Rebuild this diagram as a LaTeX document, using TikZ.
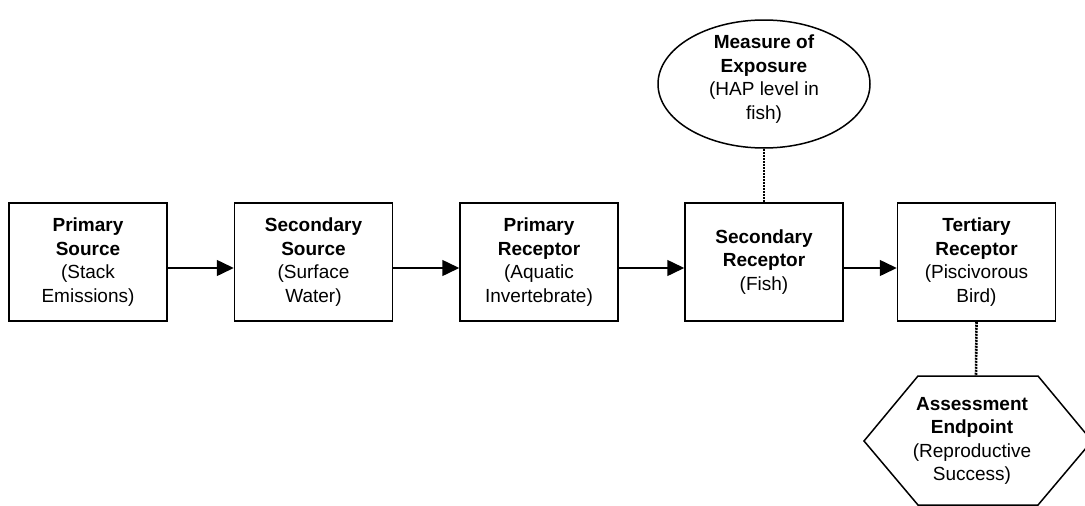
\documentclass[tikz,border=0pt]{standalone}
\usepackage{fontspec}
\setmainfont{Liberation Sans}
\usetikzlibrary{arrows.meta,shapes.geometric}
\begin{document}
\begin{tikzpicture}[x=1pt,y=-1pt,
  txt/.style={align=center,font=\fontsize{19}{23.5}\selectfont},
  stagebox/.style={txt,draw,line width=1.5pt,minimum width=158pt,minimum height=118pt,inner sep=0pt},
  flow/.style={line width=1.5pt,-{Triangle[length=17pt,width=16pt]}},
  link/.style={line width=2.6pt,dash pattern=on 2pt off 1pt}]
\useasboundingbox (0,0) rectangle (1085,506);
% pathway stages
\node[stagebox] (b1) at (88,262) {\textbf{Primary}\\\textbf{Source}\\(Stack\\Emissions)};
\node[stagebox] (b2) at (313.5,262) {\textbf{Secondary}\\\textbf{Source}\\(Surface\\Water)};
\node[stagebox] (b3) at (539,262) {\textbf{Primary}\\\textbf{Receptor}\\(Aquatic\\Invertebrate)};
\node[stagebox] (b4) at (764,262) {\textbf{Secondary}\\\textbf{Receptor}\\(Fish)};
\node[stagebox] (b5) at (976.5,262) {\textbf{Tertiary}\\\textbf{Receptor}\\(Piscivorous\\Bird)};
% measure of exposure
\node[draw,ellipse,line width=1.5pt,minimum width=212pt,minimum height=128pt,inner sep=0pt] (me) at (764,84) {};
\node[txt] (metext) at (764,79) {\textbf{Measure of}\\\textbf{Exposure}\\(HAP level in\\fish)};
% assessment endpoint
\node[txt] (ae) at (972,441) {\textbf{Assessment}\\\textbf{Endpoint}\\(Reproductive\\Success)};
\draw[line width=1.5pt] (ae.center) ++(-54,-65) coordinate (aetl) -- ++(120,0) coordinate (aetr)
  -- ++(54,65) -- ++(-54,64) -- ++(-120,0) -- ++(-54,-64) -- cycle;
\coordinate (aetop) at (976,376);
% connectors
\foreach \a/\b in {b1/b2,b2/b3,b3/b4,b4/b5}
  \draw[flow] ([yshift=-6pt]\a.east) -- ([yshift=-6pt]\b.west);
\draw[link] (me.south) -- (b4.north);
\draw[link] (b5.south) -- (aetop);
\end{tikzpicture}
\end{document}
